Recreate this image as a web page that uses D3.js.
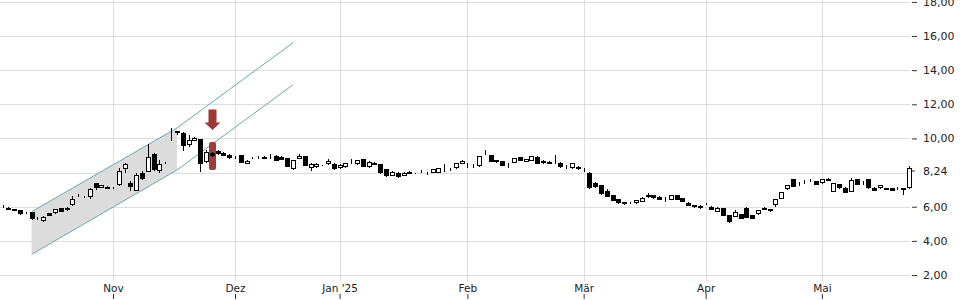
<!DOCTYPE html>
<html>
<head>
<meta charset="utf-8">
<script src="https://cdn.jsdelivr.net/npm/d3@7"></script>
<style>
    body { margin: 0; background: #fff; }
    svg { display: block; font-family: "DejaVu Sans", sans-serif; }
</style>
</head>
<body>
<svg id="chart" width="960" height="300"></svg>
<script>
// Daily candles, one entry per trading day (07.10.2024 .. 23.05.2025)
var open = [6.00,5.94,5.85,5.80,5.67,5.67,5.36,5.16,5.61,5.61,
    5.90,5.79,6.10,6.66,6.58,6.55,7.37,7.11,7.17,7.13,
    7.25,8.22,7.37,6.94,7.95,8.05,9.07,8.11,8.55,10.47,
    10.43,10.33,9.60,9.87,9.96,8.60,9.12,9.25,9.16,9.04,
    8.91,9.03,8.50,8.84,8.93,8.79,8.82,8.99,8.93,8.83,
    8.19,8.81,8.97,8.25,8.32,8.43,8.50,8.52,8.25,8.31,
    8.56,8.50,8.79,8.31,8.58,8.50,8.19,7.82,7.99,7.80,
    8.05,7.97,8.04,7.95,7.99,7.99,8.07,8.18,8.25,8.50,
    8.55,8.37,8.38,9.07,9.03,8.73,8.68,8.55,8.58,8.89,
    8.64,8.68,8.93,8.69,8.64,8.56,8.58,8.33,8.25,8.34,
    8.26,7.99,7.40,7.27,6.94,6.68,6.43,6.27,6.22,6.20,
    6.29,6.68,6.68,6.58,6.38,6.39,6.68,6.49,6.23,6.10,
    5.90,6.15,6.00,5.70,5.90,5.51,5.41,5.55,5.94,5.51,
    5.55,5.80,5.84,6.10,6.45,7.02,7.60,7.36,7.45,7.53,
    7.50,7.37,7.60,6.88,7.31,7.11,6.88,7.62,7.42,7.62,
    7.11,7.08,7.08,7.08,7.06,7.08,7.08];

var high = [6.08,5.97,5.87,5.82,5.68,5.72,5.38,5.48,5.66,5.88,
    5.95,5.96,6.62,6.72,6.60,7.09,7.40,7.30,7.20,7.16,
    8.25,8.58,7.52,7.99,8.10,9.67,9.12,8.73,8.62,10.59,
    10.46,10.36,10.20,10.07,9.99,9.30,9.20,9.30,9.19,9.06,
    8.98,9.05,8.72,8.92,8.95,8.95,9.09,9.02,8.95,8.85,
    8.76,9.09,8.99,8.55,8.58,8.47,8.80,8.54,8.48,8.58,
    8.77,8.76,8.82,8.67,8.62,8.53,8.21,8.08,8.02,8.02,
    8.07,7.99,8.14,8.05,8.22,8.28,8.50,8.27,8.57,8.71,
    8.58,8.48,9.00,9.32,9.05,8.75,8.70,8.57,8.86,8.91,
    8.82,9.00,8.95,8.71,8.66,9.03,8.60,8.45,8.57,8.36,
    8.28,8.02,7.42,7.29,7.06,6.70,6.45,6.29,6.30,6.41,
    6.55,6.80,6.70,6.60,6.55,6.70,6.70,6.51,6.25,6.12,
    6.08,6.22,6.02,5.96,5.92,5.53,5.80,5.57,5.97,5.53,
    5.82,5.96,5.86,6.47,6.86,7.29,7.62,7.45,7.55,7.62,
    7.52,7.62,7.70,7.39,7.33,7.13,7.70,7.64,7.50,7.64,
    7.13,7.29,7.10,7.10,7.14,7.10,8.38];

var low = [5.94,5.78,5.74,5.50,5.60,5.22,5.25,5.12,5.45,5.58,
    5.68,5.76,6.06,6.56,6.50,6.48,7.00,7.08,7.02,7.06,
    7.22,7.96,6.94,6.92,7.55,8.02,8.12,7.96,8.52,9.87,
    10.20,9.28,9.50,9.84,8.05,8.55,8.90,9.04,8.97,8.80,
    8.82,8.56,8.48,8.80,8.81,8.77,8.80,8.67,8.71,8.30,
    8.15,8.79,8.38,8.10,8.28,8.40,8.46,8.14,8.20,8.28,
    8.50,8.47,8.30,8.28,8.42,7.94,7.72,7.78,7.70,7.78,
    7.89,7.93,7.96,7.87,7.97,7.96,8.02,8.10,8.22,8.48,
    8.28,8.26,8.35,9.05,8.62,8.58,8.36,8.25,8.55,8.67,
    8.60,8.65,8.48,8.52,8.48,8.50,8.29,8.20,8.22,8.17,
    8.05,7.06,7.11,6.70,6.57,6.33,6.18,6.12,6.15,6.18,
    6.27,6.53,6.47,6.37,6.25,6.37,6.37,6.27,6.02,5.94,
    5.88,6.10,5.78,5.68,5.43,5.05,5.38,5.29,5.33,5.26,
    5.53,5.78,5.72,5.96,6.43,7.00,7.15,7.20,7.35,7.42,
    7.25,7.35,7.48,6.85,7.06,6.80,6.86,7.25,7.30,7.06,
    6.92,7.06,6.96,6.92,7.00,6.68,7.06];

var close = [6.02,5.80,5.75,5.59,5.61,5.28,5.26,5.41,5.47,5.85,
    5.70,5.94,6.45,6.62,6.52,7.02,7.08,7.27,7.04,7.08,
    8.11,8.50,7.17,7.86,7.60,8.89,8.15,8.53,8.59,10.51,
    10.33,9.55,9.90,10.04,8.48,9.18,8.96,9.07,9.00,8.83,
    8.89,8.58,8.69,8.86,8.83,8.93,8.84,8.69,8.73,8.34,
    8.73,8.99,8.40,8.48,8.50,8.44,8.70,8.20,8.45,8.54,
    8.59,8.73,8.34,8.64,8.44,7.96,7.80,8.05,7.72,7.99,
    7.91,7.95,8.06,7.97,8.19,8.25,8.04,8.20,8.54,8.68,
    8.52,8.39,8.97,9.10,8.64,8.60,8.38,8.53,8.83,8.69,
    8.77,8.97,8.50,8.54,8.50,8.53,8.31,8.35,8.54,8.19,
    8.24,7.08,7.13,6.72,6.59,6.35,6.20,6.14,6.24,6.39,
    6.53,6.55,6.49,6.39,6.40,6.68,6.39,6.29,6.04,5.96,
    6.06,6.17,5.80,5.94,5.45,5.12,5.70,5.31,5.35,5.28,
    5.80,5.94,5.74,6.45,6.84,7.27,7.17,7.38,7.47,7.51,
    7.27,7.60,7.50,7.37,7.08,6.82,7.55,7.27,7.44,7.08,
    6.94,7.27,6.98,6.94,7.08,6.98,8.24];

// x-axis: month labels and the trading day they start on
var monthLabels = ["Nov", "Dez", "Jan '25", "Feb", "Mär", "Apr", "Mai"];
var monthStartDay = [19, 40, 58, 80, 100, 121, 141];

// y-axis ticks
var priceTicks = [2, 4, 6, 8, 10, 12, 14, 16, 18];
var priceLabels = [2, 4, 6, 10, 12, 14, 16, 18];
var lastPrice = 8.24;

// trend channel (trading day, price)
var channelDays = [5, 30, 50];
var channelUpper = [5.71, 10.61, 15.61];
var channelLower = [3.21, 8.15, 13.15];
var channelShadeEnd = 30;

// signal marker
var signalDay = 36;
var signalRange = [8.15, 9.79];
var signalArrow = [11.70, 10.49];

window.onload = function() {
    chart();
}

function chart() {
    var svg = d3.select("#chart");

    var data = open.map(function(o, i) {
        return {day: i, open: o, high: high[i], low: low[i], close: close[i]};
    });

    var fmt = d => d3.format(".2f")(d).replace(".", ",");

    // Scales
    var x = d3.scaleLinear()
        .domain([0, data.length - 1])
        .range([2.6, 909]);

    var y = d3.scaleLinear()
        .domain([2, 18])
        .range([275, 1.9]);

    // Grid
    svg.append("g")
        .selectAll("line")
        .data(priceTicks)
        .enter().append("line")
        .attr("x1", 0)
        .attr("x2", 910)
        .attr("y1", d => Math.round(y(d)) + 0.5)
        .attr("y2", d => Math.round(y(d)) + 0.5)
        .attr("stroke", "#dedede");

    svg.append("g")
        .selectAll("line")
        .data(monthStartDay)
        .enter().append("line")
        .attr("x1", d => Math.round(x(d)) + 0.5)
        .attr("x2", d => Math.round(x(d)) + 0.5)
        .attr("y1", 0)
        .attr("y2", 281)
        .attr("stroke", "#dedede");

    // Trend channel
    var upperPts = channelDays.map((d, i) => [d, channelUpper[i]]);
    var lowerPts = channelDays.map((d, i) => [d, channelLower[i]]);
    var shadeUp = upperPts.filter(p => p[0] <= channelShadeEnd);
    var shadeLow = lowerPts.filter(p => p[0] <= channelShadeEnd).reverse();
    var line = d3.line().x(p => x(p[0])).y(p => y(p[1]));

    svg.append("path")
        .attr("d", line(shadeUp.concat(shadeLow)) + "Z")
        .attr("fill", "#dcdcdc");

    [upperPts, lowerPts].forEach(function(pts) {
        svg.append("path")
            .attr("d", line(pts))
            .attr("fill", "none")
            .attr("stroke", "#64a8b1")
            .attr("stroke-width", 1);
    });

    // Signal highlight behind the candle
    svg.append("rect")
        .attr("x", Math.round(x(signalDay)) - 3)
        .attr("y", y(signalRange[1]))
        .attr("width", 7)
        .attr("height", y(signalRange[0]) - y(signalRange[1]))
        .attr("rx", 2)
        .attr("fill", "#a03c39");

    // Arrow pointing down at the signal
    var ax = Math.round(x(signalDay)) + 0.5, aTop = y(signalArrow[0]), aTip = y(signalArrow[1]);
    var headH = 7.5;
    svg.append("path")
        .attr("d", ["M", ax - 4, aTop, "L", ax + 4, aTop, "L", ax + 4, aTip - headH,
            "L", ax + 8, aTip - headH, "L", ax, aTip, "L", ax - 8, aTip - headH,
            "L", ax - 4, aTip - headH, "Z"].join(" "))
        .attr("fill", "#9c3a37");

    // Candles
    var candle = svg.append("g")
        .selectAll("g")
        .data(data)
        .enter().append("g");

    candle.append("line")
        .attr("x1", d => Math.round(x(d.day)) + 0.5)
        .attr("x2", d => Math.round(x(d.day)) + 0.5)
        .attr("y1", d => Math.round(y(d.high)))
        .attr("y2", d => Math.round(y(d.low)))
        .attr("stroke", "#000");

    candle.append("rect")
        .attr("x", d => Math.round(x(d.day)) - 1.5)
        .attr("y", d => Math.round(y(Math.max(d.open, d.close))) + 0.5)
        .attr("width", 4)
        .attr("height", d => Math.max(0, Math.round(y(Math.min(d.open, d.close))) - Math.round(y(Math.max(d.open, d.close))) - 1))
        .attr("fill", d => d.close >= d.open ? "#fff" : "#000")
        .attr("stroke", "#000");

    // Y axis on the right
    var yAxis = d3.axisRight(y)
        .tickValues(priceLabels)
        .tickFormat(fmt)
        .tickSize(5)
        .tickPadding(6);

    var gy = svg.append("g")
        .attr("transform", "translate(912,0)")
        .call(yAxis);
    gy.select(".domain").remove();
    gy.selectAll("text").attr("font-size", 11).attr("font-family", "DejaVu Sans").attr("fill", "#222");
    gy.selectAll("line").attr("stroke", "#333");

    // Last price label
    var gl = svg.append("g")
        .attr("transform", "translate(912,2)")
        .call(d3.axisRight(y).tickValues([lastPrice]).tickFormat(fmt).tickSize(3).tickPadding(8));
    gl.select(".domain").remove();
    gl.selectAll("text").attr("font-size", 11).attr("font-family", "DejaVu Sans").attr("fill", "#222");
    gl.selectAll("line").attr("stroke", "#333");

    // X axis (labels above small ticks at the bottom)
    var xAxis = d3.axisTop(x)
        .tickValues(monthStartDay)
        .tickFormat((d, i) => monthLabels[i])
        .tickSize(5)
        .tickPadding(2);

    var gx = svg.append("g")
        .attr("transform", "translate(0,299)")
        .call(xAxis);
    gx.select(".domain").remove();
    gx.selectAll("text").attr("font-size", 10.5).attr("font-family", "DejaVu Sans").attr("fill", "#222");
    gx.selectAll("line").attr("stroke", "#333");
}
</script>
</body>
</html>
